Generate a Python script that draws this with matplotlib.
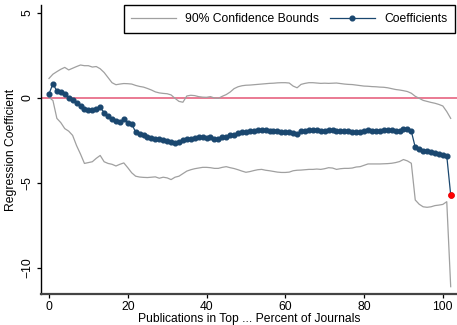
import matplotlib
matplotlib.use("Agg")
import matplotlib.pyplot as plt
from matplotlib.lines import Line2D

plt.rcParams['font.family'] = ['Liberation Sans', 'DejaVu Sans']

pct = list(range(0, 103))

coef = [0.24, 0.84, 0.41, 0.37, 0.24, 0.02, -0.12, -0.31, -0.47, -0.65,
        -0.71, -0.71, -0.63, -0.55, -0.86, -1.06, -1.22, -1.37, -1.39, -1.24,
        -1.45, -1.53, -2.0, -2.1, -2.2, -2.28, -2.36, -2.39, -2.43, -2.47,
        -2.53, -2.59, -2.63, -2.59, -2.47, -2.41, -2.39, -2.35, -2.31, -2.31,
        -2.35, -2.31, -2.43, -2.39, -2.31, -2.27, -2.2, -2.16, -2.06, -2.02,
        -1.98, -1.96, -1.96, -1.9, -1.9, -1.9, -1.92, -1.96, -1.96, -1.98,
        -2.0, -2.02, -2.06, -2.1, -1.96, -1.96, -1.9, -1.86, -1.9, -1.94,
        -1.94, -1.9, -1.9, -1.92, -1.92, -1.94, -1.92, -1.98, -1.98, -1.98,
        -1.96, -1.9, -1.92, -1.96, -1.92, -1.88, -1.88, -1.9, -1.92, -1.94,
        -1.82, -1.84, -1.96, -2.9, -3.02, -3.1, -3.14, -3.2, -3.24, -3.3,
        -3.35, -3.4, -5.7]

upper = [1.15, 1.4, 1.55, 1.69, 1.8, 1.65, 1.75, 1.85, 1.94, 1.9,
         1.9, 1.82, 1.85, 1.72, 1.5, 1.2, 0.9, 0.78, 0.82, 0.85,
         0.84, 0.82, 0.74, 0.68, 0.64, 0.56, 0.47, 0.36, 0.3, 0.27,
         0.25, 0.18, -0.02, -0.2, -0.25, 0.12, 0.16, 0.14, 0.08, 0.05,
         0.04, 0.08, 0.0, -0.02, 0.1, 0.2, 0.35, 0.55, 0.66, 0.72,
         0.75, 0.76, 0.78, 0.8, 0.82, 0.84, 0.86, 0.87, 0.89, 0.9,
         0.9, 0.88, 0.7, 0.6, 0.8, 0.86, 0.9, 0.9, 0.88, 0.86,
         0.87, 0.86, 0.87, 0.88, 0.85, 0.82, 0.8, 0.79, 0.76, 0.73,
         0.7, 0.69, 0.67, 0.66, 0.64, 0.63, 0.6, 0.55, 0.5, 0.47,
         0.43, 0.38, 0.28, 0.1, -0.02, -0.14, -0.2, -0.26, -0.31, -0.38,
         -0.47, -0.8, -1.2]

lower = [0.04, -0.15, -1.2, -1.45, -1.8, -1.95, -2.2, -2.8, -3.3, -3.85,
         -3.8, -3.75, -3.55, -3.38, -3.75, -3.85, -3.9, -4.0, -3.9, -3.82,
         -4.1, -4.4, -4.6, -4.65, -4.67, -4.68, -4.66, -4.64, -4.72, -4.66,
         -4.7, -4.8, -4.66, -4.6, -4.45, -4.3, -4.22, -4.16, -4.12, -4.08,
         -4.08, -4.1, -4.14, -4.14, -4.08, -4.04, -4.1, -4.15, -4.22, -4.3,
         -4.37, -4.33, -4.27, -4.22, -4.2, -4.25, -4.28, -4.32, -4.36, -4.38,
         -4.38, -4.36, -4.28, -4.25, -4.24, -4.22, -4.2, -4.2, -4.18, -4.2,
         -4.16, -4.1, -4.12, -4.2, -4.16, -4.14, -4.14, -4.12, -4.06, -4.04,
         -3.96, -3.88, -3.88, -3.88, -3.88, -3.87, -3.86, -3.84, -3.8, -3.74,
         -3.62, -3.7, -3.84, -6.0, -6.25, -6.4, -6.43, -6.4, -6.33, -6.3,
         -6.26, -6.1, -11.1]

xticks = [0, 20, 40, 60, 80, 100]
yticks = [-10, -5, 0, 5]

navy = '#1a476f'
gray = '#a0a0a0'
pink = '#e8708a'

fig = plt.figure(figsize=(4.57, 3.25), dpi=100)
ax = fig.add_axes([41/457, 31/325, 416/457, 289/325])

ax.axhline(0, color=pink, lw=1.3, zorder=1)
ax.plot(pct, upper, color=gray, lw=0.9, zorder=2)
ax.plot(pct, lower, color=gray, lw=0.9, zorder=2)
ax.plot(pct, coef, color=navy, lw=0.9, marker='o', ms=3.4, mec=navy, mfc=navy, zorder=3)
ax.plot(pct[-1:], coef[-1:], 'o', color='#ff0000', ms=3.8, zorder=4)

ax.set_xlim(-2.03, 103.6)
ax.set_ylim(-11.53, 5.47)
ax.set_xticks(xticks)
ax.set_yticks(yticks)
ax.set_yticklabels([str(v).replace('-', '\u2212') for v in yticks], rotation=90, va='center')
ax.tick_params(axis='both', direction='out', length=3, width=0.9, labelsize=8.7, colors='black')
ax.tick_params(axis='x', pad=1.8)
ax.tick_params(axis='y', pad=2.7)
for s in ['top', 'right']:
    ax.spines[s].set_visible(False)
ax.spines['left'].set_linewidth(1.0)
ax.spines['bottom'].set_linewidth(1.6)
ax.spines['bottom'].set_color('#444444')

ax.set_xlabel('Publications in Top ... Percent of Journals', fontsize=8.7, labelpad=0)
ax.set_ylabel('Regression Coefficient', fontsize=8.7)
ax.yaxis.set_label_coords((17.5 - 41) / 416, 0.5)

handles = [Line2D([], [], color=gray, lw=0.9),
           Line2D([], [], color=navy, lw=0.9, marker='o', ms=3.4)]
leg = ax.legend(handles, ['90% Confidence Bounds', 'Coefficients'], ncol=2,
                loc='upper right', bbox_to_anchor=(455/457, 1 - 5/325),
                bbox_transform=fig.transFigure, fontsize=8.7, frameon=True,
                fancybox=False, edgecolor='black', framealpha=1,
                handlelength=3.7, columnspacing=0.9, borderpad=0.65,
                handletextpad=0.75, borderaxespad=0)
leg.get_frame().set_linewidth(1.0)

fig.savefig('out.png', dpi=100)
